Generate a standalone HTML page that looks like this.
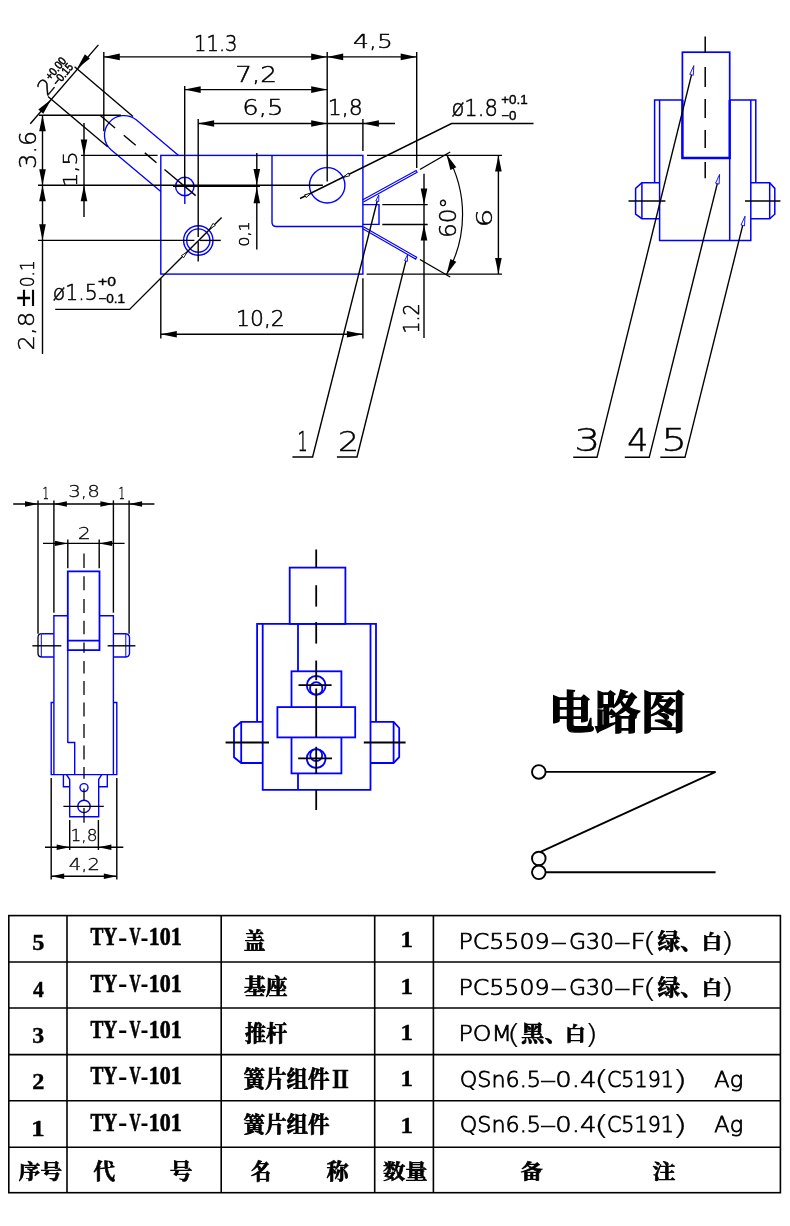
<!DOCTYPE html>
<html lang="zh"><head><meta charset="utf-8"><title>TY-V-101</title>
<style>
html,body{margin:0;padding:0;background:#fff}
svg{display:block;will-change:transform}
.cad{font-family:"DejaVu Sans Light","DejaVu Sans","Liberation Sans",sans-serif;font-weight:200;fill:#000}
.tol{font-family:"Liberation Sans",sans-serif;font-weight:400;fill:#000}
.ser{font-family:"Liberation Serif","Noto Serif CJK SC",serif;font-weight:700;fill:#000}
.cjk{font-family:"Liberation Serif","Noto Serif CJK SC",serif;font-weight:700;fill:#000}
.ttl{font-family:"Liberation Serif","Noto Serif CJK SC",serif;font-weight:700;fill:#000}
.san{font-family:"Liberation Sans",sans-serif;font-weight:400;fill:#000}
</style></head><body>
<svg width="790" height="1226" viewBox="0 0 790 1226">
<rect width="790" height="1226" fill="#fff"/>
<rect x="160.8" y="155.4" width="202.1" height="118.7" stroke="#0000ff" stroke-width="1.4" fill="none"/>
<path d="M178.6,155.4 L136.2,119.8 A19.6,19.6 0 0 0 111.0,149.8 L160.8,191.6" stroke="#0000ff" stroke-width="1.3" fill="none" />
<circle cx="184.8" cy="186.5" r="9.2" stroke="#0000ff" stroke-width="1.4" fill="none"/>
<line x1="184.8" y1="176.5" x2="184.8" y2="204.0" stroke="#0000ff" stroke-width="1.4" />
<circle cx="198.3" cy="240.5" r="14.7" stroke="#0000ff" stroke-width="1.4" fill="none"/>
<circle cx="198.3" cy="240.5" r="11.6" stroke="#0000ff" stroke-width="1.4" fill="none"/>
<circle cx="327.2" cy="185.3" r="17.7" stroke="#0000ff" stroke-width="1.4" fill="none"/>
<path d="M272,155.4 V222.2 Q272,226.5 276.3,226.5 H362.9" stroke="#0000ff" stroke-width="1.4" fill="none" />
<path d="M362.9,204.6 H379 V224.4 H362.9" stroke="#0000ff" stroke-width="1.4" fill="none" />
<path d="M363.4,201.9 L417.1,172.3 L416.1,170.5 L362.4,200.1" stroke="#0000ff" stroke-width="1.15" fill="none" />
<path d="M362.4,228.6 L415.7,259.1 L416.7,257.3 L363.4,226.8" stroke="#0000ff" stroke-width="1.15" fill="none" />
<line x1="103.8" y1="52.0" x2="103.8" y2="131.3" stroke="#000" stroke-width="1.4" />
<line x1="184.7" y1="86.0" x2="184.7" y2="185.0" stroke="#000" stroke-width="1.4" />
<line x1="198.2" y1="119.0" x2="198.2" y2="237.0" stroke="#000" stroke-width="1.4" />
<line x1="198.2" y1="241.5" x2="198.2" y2="261.6" stroke="#000" stroke-width="1.4" />
<line x1="327.2" y1="52.0" x2="327.2" y2="181.5" stroke="#000" stroke-width="1.4" />
<line x1="416.7" y1="52.0" x2="416.7" y2="168.1" stroke="#000" stroke-width="1.4" />
<line x1="362.9" y1="119.0" x2="362.9" y2="151.0" stroke="#000" stroke-width="1.4" />
<line x1="103.8" y1="56.9" x2="416.7" y2="56.9" stroke="#000" stroke-width="1.4" />
<polygon points="103.8,56.9 119.8,53.6 119.8,60.2" fill="#000"/>
<polygon points="327.2,56.9 311.2,60.2 311.2,53.6" fill="#000"/>
<polygon points="327.2,56.9 343.2,53.6 343.2,60.2" fill="#000"/>
<polygon points="416.7,56.9 400.7,60.2 400.7,53.6" fill="#000"/>
<line x1="184.7" y1="89.6" x2="327.2" y2="89.6" stroke="#000" stroke-width="1.4" />
<polygon points="184.7,89.6 200.7,86.3 200.7,92.9" fill="#000"/>
<polygon points="327.2,89.6 311.2,92.9 311.2,86.3" fill="#000"/>
<line x1="198.1" y1="123.5" x2="395.0" y2="123.5" stroke="#000" stroke-width="1.4" />
<polygon points="198.1,123.5 214.1,120.2 214.1,126.8" fill="#000"/>
<polygon points="327.2,123.5 311.2,126.8 311.2,120.2" fill="#000"/>
<polygon points="362.9,123.5 378.9,120.2 378.9,126.8" fill="#000"/>
<line x1="39.0" y1="115.2" x2="121.0" y2="115.2" stroke="#000" stroke-width="1.4" />
<line x1="81.0" y1="155.4" x2="157.6" y2="155.4" stroke="#000" stroke-width="1.4" />
<line x1="38.0" y1="185.3" x2="322.9" y2="185.3" stroke="#000" stroke-width="1.4" />
<line x1="173.0" y1="186.3" x2="260.0" y2="186.3" stroke="#000" stroke-width="1.4" />
<line x1="38.0" y1="240.4" x2="194.4" y2="240.4" stroke="#000" stroke-width="1.4" />
<line x1="199.5" y1="240.4" x2="220.8" y2="240.4" stroke="#000" stroke-width="1.4" />
<line x1="42.5" y1="115.2" x2="42.5" y2="354.0" stroke="#000" stroke-width="1.4" />
<polygon points="42.5,115.2 45.8,131.2 39.2,131.2" fill="#000"/>
<polygon points="42.5,185.3 39.2,169.3 45.8,169.3" fill="#000"/>
<polygon points="42.5,185.3 45.8,201.3 39.2,201.3" fill="#000"/>
<polygon points="42.5,240.3 39.2,224.3 45.8,224.3" fill="#000"/>
<line x1="84.0" y1="123.0" x2="84.0" y2="217.0" stroke="#000" stroke-width="1.4" />
<polygon points="84.0,155.4 80.7,139.4 87.3,139.4" fill="#000"/>
<polygon points="84.0,185.3 87.3,201.3 80.7,201.3" fill="#000"/>
<line x1="256.8" y1="153.0" x2="256.8" y2="249.4" stroke="#000" stroke-width="1.4" />
<polygon points="256.8,185.0 253.5,169.0 260.1,169.0" fill="#000"/>
<polygon points="256.8,187.3 260.1,203.3 253.5,203.3" fill="#000"/>
<line x1="98.4" y1="44.9" x2="30.3" y2="123.7" stroke="#000" stroke-width="1.4" />
<polygon points="77.1,68.6 84.9,54.2 89.9,58.5" fill="#000"/>
<polygon points="51.1,99.4 43.3,113.8 38.3,109.5" fill="#000"/>
<line x1="74.6" y1="66.7" x2="133.0" y2="116.5" stroke="#000" stroke-width="1.4" />
<line x1="48.0" y1="96.5" x2="107.6" y2="146.8" stroke="#000" stroke-width="1.4" />
<line x1="100.0" y1="115.3" x2="115.1" y2="128.0" stroke="#000" stroke-width="1.4" />
<line x1="123.8" y1="135.3" x2="135.7" y2="145.3" stroke="#000" stroke-width="1.4" />
<line x1="144.8" y1="152.9" x2="156.5" y2="162.8" stroke="#000" stroke-width="1.4" />
<line x1="164.5" y1="169.5" x2="195.7" y2="195.6" stroke="#000" stroke-width="1.4" />
<path d="M55.2,309.4 H129.6 L221.6,217.4" stroke="#000" stroke-width="1.4" fill="none" />
<path d="M533.5,123.5 H451.5 L300.1,198.5" stroke="#000" stroke-width="1.4" fill="none" />
<polygon points="311.1,193.3 306.0,197.6 304.6,194.8" fill="#fff" stroke="#000" stroke-width="0.9"/>
<polygon points="343.3,177.3 348.4,173.0 349.8,175.8" fill="#fff" stroke="#000" stroke-width="0.9"/>
<polygon points="209.6,229.0 213.1,223.3 215.3,225.5" fill="#fff" stroke="#000" stroke-width="0.9"/>
<polygon points="187.2,252.0 183.7,257.7 181.5,255.5" fill="#fff" stroke="#000" stroke-width="0.9"/>
<line x1="419.9" y1="169.5" x2="450.2" y2="152.0" stroke="#000" stroke-width="1.4" />
<line x1="419.9" y1="259.5" x2="450.2" y2="277.0" stroke="#000" stroke-width="1.4" />
<path d="M446.4,154.2 A120.5,120.5 0 0 1 446.4,274.8" stroke="#000" stroke-width="1.2" fill="none" />
<polygon points="446.4,154.2 456.3,167.2 450.4,170.1" fill="#000"/>
<polygon points="446.4,274.8 450.4,258.9 456.3,261.8" fill="#000"/>
<line x1="367.0" y1="155.4" x2="502.0" y2="155.4" stroke="#000" stroke-width="1.4" />
<line x1="366.6" y1="274.1" x2="502.0" y2="274.1" stroke="#000" stroke-width="1.4" />
<line x1="498.4" y1="155.4" x2="498.4" y2="274.1" stroke="#000" stroke-width="1.4" />
<polygon points="498.4,155.4 501.7,171.4 495.1,171.4" fill="#000"/>
<polygon points="498.4,274.1 495.1,258.1 501.7,258.1" fill="#000"/>
<line x1="424.0" y1="173.7" x2="424.0" y2="338.0" stroke="#000" stroke-width="1.4" />
<polygon points="424.0,204.6 420.7,188.6 427.3,188.6" fill="#000"/>
<polygon points="424.0,224.5 427.3,240.5 420.7,240.5" fill="#000"/>
<line x1="382.3" y1="204.6" x2="427.7" y2="204.6" stroke="#000" stroke-width="1.4" />
<line x1="382.3" y1="224.5" x2="427.7" y2="224.5" stroke="#000" stroke-width="1.4" />
<line x1="160.8" y1="278.3" x2="160.8" y2="338.5" stroke="#000" stroke-width="1.4" />
<line x1="362.9" y1="278.3" x2="362.9" y2="338.5" stroke="#000" stroke-width="1.4" />
<line x1="160.8" y1="334.3" x2="362.9" y2="334.3" stroke="#000" stroke-width="1.4" />
<polygon points="160.8,334.3 176.8,331.0 176.8,337.6" fill="#000"/>
<polygon points="362.9,334.3 346.9,337.6 346.9,331.0" fill="#000"/>
<path d="M377.2,201 L312.6,457 H292.4" stroke="#000" stroke-width="1.4" fill="none" />
<polygon points="378.8,194.9 378.7,201.6 375.8,200.8" fill="#fff" stroke="#0000ff" stroke-width="0.9"/>
<path d="M405.9,260.8 L357,457 H336.9" stroke="#000" stroke-width="1.4" fill="none" />
<polygon points="407.5,254.9 407.4,261.4 404.5,260.6" fill="#fff" stroke="#0000ff" stroke-width="0.9"/>
<text class="cad" font-size="20" transform="translate(194.00 51.34) rotate(0) scale(0.978 1.033)" stroke="#000" stroke-width="0.5" vector-effect="non-scaling-stroke">11.3</text>
<text class="cad" font-size="20" transform="translate(353.00 48.25) rotate(0) scale(1.252 1.013)" stroke="#000" stroke-width="0.5" vector-effect="non-scaling-stroke">4,5</text>
<text class="cad" font-size="20" transform="translate(235.14 81.54) rotate(0) scale(1.319 1.053)" stroke="#000" stroke-width="0.5" vector-effect="non-scaling-stroke">7,2</text>
<text class="cad" font-size="20" transform="translate(242.26 115.04) rotate(0) scale(1.293 1.053)" stroke="#000" stroke-width="0.5" vector-effect="non-scaling-stroke">6,5</text>
<text class="cad" font-size="20" transform="translate(327.73 115.04) rotate(0) scale(1.101 1.053)" stroke="#000" stroke-width="0.5" vector-effect="non-scaling-stroke">1,8</text>
<text class="cad" font-size="20" transform="translate(36.02 168.64) rotate(-90) scale(1.182 1.138)" stroke="#000" stroke-width="0.5" vector-effect="non-scaling-stroke">3.6</text>
<text class="cad" font-size="20" transform="translate(77.05 187.03) rotate(-90) scale(1.128 1.000)" stroke="#000" stroke-width="0.5" vector-effect="non-scaling-stroke">1,5</text>
<text class="cad" font-size="20" transform="translate(248.61 246.79) rotate(-90) scale(0.802 0.691)" stroke="#000" stroke-width="0.5" vector-effect="non-scaling-stroke">0,1</text>
<text class="cad" font-size="20" transform="translate(33.54 350.45) rotate(-90) scale(1.217 1.072)" stroke="#000" stroke-width="0.5" vector-effect="non-scaling-stroke">2,8</text>
<text class="tol" font-size="20" transform="translate(33.90 306.89) rotate(-90) scale(1.653 1.383)" stroke="#000" stroke-width="0.2" vector-effect="non-scaling-stroke">±</text>
<text class="cad" font-size="20" transform="translate(33.56 287.28) rotate(-90) scale(0.853 0.954)" stroke="#000" stroke-width="0.5" vector-effect="non-scaling-stroke">0.1</text>
<text class="cad" font-size="20" transform="translate(451.40 116.32) rotate(0) scale(1.058 1.171)" stroke="#000" stroke-width="0.5" vector-effect="non-scaling-stroke">ø1.8</text>
<text class="tol" font-size="20" transform="translate(501.13 104.27) rotate(0) scale(0.673 0.641)" stroke="#000" stroke-width="0.4" vector-effect="non-scaling-stroke">+0.1</text>
<text class="tol" font-size="20" transform="translate(501.13 120.07) rotate(0) scale(0.667 0.634)" stroke="#000" stroke-width="0.4" vector-effect="non-scaling-stroke">−0</text>
<text class="cad" font-size="20" transform="translate(52.63 299.53) rotate(0) scale(1.024 1.086)" stroke="#000" stroke-width="0.5" vector-effect="non-scaling-stroke">ø1.5</text>
<text class="tol" font-size="20" transform="translate(98.11 285.97) rotate(0) scale(0.790 0.627)" stroke="#000" stroke-width="0.4" vector-effect="non-scaling-stroke">+0</text>
<text class="tol" font-size="20" transform="translate(98.22 303.47) rotate(0) scale(0.678 0.627)" stroke="#000" stroke-width="0.4" vector-effect="non-scaling-stroke">−0.1</text>
<text class="cad" font-size="20" transform="translate(235.93 325.55) rotate(0) scale(1.099 1.020)" stroke="#000" stroke-width="0.5" vector-effect="non-scaling-stroke">10,2</text>
<text class="cad" font-size="20" transform="translate(418.54 333.54) rotate(-90) scale(0.949 1.046)" stroke="#000" stroke-width="0.5" vector-effect="non-scaling-stroke">1.2</text>
<text class="cad" font-size="20" transform="translate(456.12 238.06) rotate(-90) scale(1.157 1.132)" stroke="#000" stroke-width="0.5" vector-effect="non-scaling-stroke">60°</text>
<text class="cad" font-size="20" transform="translate(492.03 227.43) rotate(-90) scale(1.489 1.079)" stroke="#000" stroke-width="0.5" vector-effect="non-scaling-stroke">6</text>
<text class="cad" font-size="20" transform="translate(297.38 450.99) rotate(0) scale(0.805 1.296)" stroke="#000" stroke-width="0.5" vector-effect="non-scaling-stroke">1</text>
<text class="cad" font-size="20" transform="translate(337.94 450.99) rotate(0) scale(1.649 1.296)" stroke="#000" stroke-width="0.5" vector-effect="non-scaling-stroke">2</text>
<text class="cad" font-size="20" transform="translate(46.88 96.64) rotate(-50) scale(1.120 1.050)" stroke="#000" stroke-width="0.5" vector-effect="non-scaling-stroke">2</text>
<text class="tol" font-size="20" transform="translate(50.60 80.70) rotate(-50) scale(0.500 0.580)" stroke="#000" stroke-width="0.5" vector-effect="non-scaling-stroke">+0.00</text>
<text class="tol" font-size="20" transform="translate(57.65 86.62) rotate(-50) scale(0.500 0.580)" stroke="#000" stroke-width="0.5" vector-effect="non-scaling-stroke">−0.15</text>
<rect x="682.4" y="52.2" width="47.3" height="105.8" stroke="#0000ff" stroke-width="1.7" fill="none"/>
<line x1="729.7" y1="158.0" x2="729.7" y2="240.5" stroke="#0000ff" stroke-width="1.5" />
<path d="M682.4,100 V158 H729.7 V100" stroke="#0000ff" stroke-width="2.3" fill="none" />
<path d="M654.6,182.8 V100 H682.4" stroke="#0000ff" stroke-width="1.5" fill="none" />
<path d="M729.7,100 H755.8 V182.8" stroke="#0000ff" stroke-width="1.5" fill="none" />
<path d="M659.6,100 V240.5 H750.8 V100" stroke="#0000ff" stroke-width="1.5" fill="none" />
<path d="M659.6,182.8 H641.9 L635.6,188.4 V214.2 L641.9,218.7 H659.6" stroke="#0000ff" stroke-width="1.5" fill="none" />
<line x1="641.9" y1="182.8" x2="641.9" y2="218.7" stroke="#0000ff" stroke-width="1.5" />
<path d="M750.8,182.8 H769.7 L774.8,188.4 V214.2 L769.7,218.7 H750.8" stroke="#0000ff" stroke-width="1.5" fill="none" />
<line x1="769.7" y1="182.8" x2="769.7" y2="218.7" stroke="#0000ff" stroke-width="1.5" />
<line x1="628.5" y1="201.0" x2="665.4" y2="201.0" stroke="#000" stroke-width="1.4" />
<line x1="745.0" y1="201.0" x2="780.4" y2="201.0" stroke="#000" stroke-width="1.4" />
<line x1="705.2" y1="36.5" x2="705.2" y2="53.0" stroke="#000" stroke-width="1.5" />
<line x1="705.2" y1="67.0" x2="705.2" y2="87.0" stroke="#000" stroke-width="1.5" />
<line x1="705.2" y1="99.0" x2="705.2" y2="118.0" stroke="#000" stroke-width="1.5" />
<line x1="705.2" y1="130.0" x2="705.2" y2="148.0" stroke="#000" stroke-width="1.5" />
<line x1="705.2" y1="162.0" x2="705.2" y2="178.2" stroke="#000" stroke-width="1.5" />
<path d="M691.5,74.8 L597,457.3 H573.2" stroke="#000" stroke-width="1.4" fill="none" />
<polygon points="693.8,65.6 693.3,75.3 689.8,74.4" fill="#fff" stroke="#0000ff" stroke-width="0.9"/>
<path d="M717.3,183.6 L649.2,457.3 H624.8" stroke="#000" stroke-width="1.4" fill="none" />
<polygon points="719.6,174.4 719.1,184.1 715.6,183.2" fill="#fff" stroke="#0000ff" stroke-width="0.9"/>
<path d="M742.7,225.4 L685,457.3 H660.3" stroke="#000" stroke-width="1.4" fill="none" />
<polygon points="745.0,216.2 744.5,225.9 741.0,225.0" fill="#fff" stroke="#0000ff" stroke-width="0.9"/>
<text class="cad" font-size="20" transform="translate(574.26 450.93) rotate(0) scale(2.056 1.579)" stroke="#000" stroke-width="0.5" vector-effect="non-scaling-stroke">3</text>
<text class="cad" font-size="20" transform="translate(627.19 450.93) rotate(0) scale(1.657 1.579)" stroke="#000" stroke-width="0.5" vector-effect="non-scaling-stroke">4</text>
<text class="cad" font-size="20" transform="translate(661.18 450.93) rotate(0) scale(2.035 1.579)" stroke="#000" stroke-width="0.5" vector-effect="non-scaling-stroke">5</text>
<line x1="38.0" y1="500.4" x2="38.0" y2="633.7" stroke="#000" stroke-width="1.4" />
<line x1="53.9" y1="500.4" x2="53.9" y2="612.7" stroke="#000" stroke-width="1.4" />
<line x1="113.4" y1="500.4" x2="113.4" y2="612.7" stroke="#000" stroke-width="1.4" />
<line x1="129.1" y1="500.4" x2="129.1" y2="633.7" stroke="#000" stroke-width="1.4" />
<line x1="13.2" y1="504.0" x2="154.4" y2="504.0" stroke="#000" stroke-width="1.4" />
<polygon points="38.0,504.0 25.0,506.7 25.0,501.3" fill="#000"/>
<polygon points="53.9,504.0 66.9,501.3 66.9,506.7" fill="#000"/>
<polygon points="113.4,504.0 100.4,506.7 100.4,501.3" fill="#000"/>
<polygon points="129.1,504.0 142.1,501.3 142.1,506.7" fill="#000"/>
<line x1="43.0" y1="543.4" x2="124.6" y2="543.4" stroke="#000" stroke-width="1.4" />
<polygon points="67.8,543.4 54.8,546.1 54.8,540.7" fill="#000"/>
<polygon points="99.2,543.4 112.2,540.7 112.2,546.1" fill="#000"/>
<line x1="67.8" y1="539.6" x2="67.8" y2="568.2" stroke="#000" stroke-width="1.4" />
<line x1="99.2" y1="539.6" x2="99.2" y2="568.2" stroke="#000" stroke-width="1.4" />
<path d="M67.8,743 V650.1" stroke="#0000ff" stroke-width="1.4" fill="none" />
<path d="M67.8,650.1 V571.3 H99.5 V650.1 Z" stroke="#0000ff" stroke-width="1.8" fill="none" />
<line x1="67.8" y1="640.6" x2="99.5" y2="640.6" stroke="#0000ff" stroke-width="1.8" />
<path d="M67.8,742.5 H74.7 V774.6" stroke="#0000ff" stroke-width="1.4" fill="none" />
<path d="M67.8,615.7 H53.9 V774.6" stroke="#0000ff" stroke-width="1.4" fill="none" />
<path d="M99.2,615.7 H113.4 V774.6" stroke="#0000ff" stroke-width="1.4" fill="none" />
<path d="M53.9,702.5 H51.2 V774.6 H116.8 V702.5 H113.4" stroke="#0000ff" stroke-width="1.4" fill="none" />
<path d="M53.9,633.7 H41.3 M41.3,657 H53.9" stroke="#0000ff" stroke-width="1.4" fill="none" />
<path d="M41.3,633.7 Q38,634 38,637.5 V653.2 Q38,656.7 41.3,657" stroke="#000" stroke-width="1.3" fill="none" />
<line x1="41.3" y1="633.7" x2="41.3" y2="657.0" stroke="#0000ff" stroke-width="1.0" />
<path d="M113.4,633.7 H125.8 Q129.3,634 129.5,637.5 V653.2 Q129.3,656.7 125.8,657 H113.4" stroke="#0000ff" stroke-width="1.4" fill="none" />
<line x1="125.8" y1="633.7" x2="125.8" y2="657.0" stroke="#0000ff" stroke-width="1.0" />
<line x1="32.4" y1="645.8" x2="61.3" y2="645.8" stroke="#000" stroke-width="1.4" />
<line x1="107.6" y1="645.8" x2="135.4" y2="645.8" stroke="#000" stroke-width="1.4" />
<path d="M63.4,774.6 V786.7 H69.7" stroke="#0000ff" stroke-width="1.4" fill="none" />
<path d="M107.3,774.6 V786.7 H98.7" stroke="#0000ff" stroke-width="1.4" fill="none" />
<path d="M66.5,774.6 L69.7,779.5 V816.7 H98.7 V779.5 L101.7,774.6" stroke="#0000ff" stroke-width="1.4" fill="none" />
<circle cx="84.0" cy="787.6" r="4.0" stroke="#0000ff" stroke-width="1.4" fill="none"/>
<circle cx="84.0" cy="806.4" r="6.2" stroke="#0000ff" stroke-width="1.4" fill="none"/>
<line x1="63.4" y1="806.4" x2="103.8" y2="806.4" stroke="#000" stroke-width="1.4" />
<line x1="84.0" y1="553.5" x2="84.0" y2="568.0" stroke="#000" stroke-width="1.3" />
<line x1="84.0" y1="576.3" x2="84.0" y2="590.3" stroke="#000" stroke-width="1.3" />
<line x1="84.0" y1="599.0" x2="84.0" y2="613.0" stroke="#000" stroke-width="1.3" />
<line x1="84.0" y1="620.8" x2="84.0" y2="634.2" stroke="#000" stroke-width="1.3" />
<line x1="84.0" y1="642.5" x2="84.0" y2="652.7" stroke="#000" stroke-width="1.3" />
<line x1="84.0" y1="661.0" x2="84.0" y2="673.5" stroke="#000" stroke-width="1.3" />
<line x1="84.0" y1="681.0" x2="84.0" y2="695.0" stroke="#000" stroke-width="1.3" />
<line x1="84.0" y1="702.5" x2="84.0" y2="716.5" stroke="#000" stroke-width="1.3" />
<line x1="84.0" y1="724.0" x2="84.0" y2="738.0" stroke="#000" stroke-width="1.3" />
<line x1="84.0" y1="745.5" x2="84.0" y2="759.5" stroke="#000" stroke-width="1.3" />
<line x1="84.0" y1="767.0" x2="84.0" y2="778.8" stroke="#000" stroke-width="1.3" />
<line x1="84.0" y1="788.5" x2="84.0" y2="800.4" stroke="#000" stroke-width="1.3" />
<line x1="84.0" y1="808.0" x2="84.0" y2="822.7" stroke="#000" stroke-width="1.3" />
<line x1="69.7" y1="820.0" x2="69.7" y2="850.0" stroke="#000" stroke-width="1.4" />
<line x1="98.4" y1="820.0" x2="98.4" y2="850.0" stroke="#000" stroke-width="1.4" />
<line x1="45.0" y1="847.2" x2="123.3" y2="847.2" stroke="#000" stroke-width="1.4" />
<polygon points="69.7,847.2 56.7,849.9 56.7,844.5" fill="#000"/>
<polygon points="98.4,847.2 111.4,844.5 111.4,849.9" fill="#000"/>
<line x1="51.2" y1="778.0" x2="51.2" y2="879.4" stroke="#000" stroke-width="1.4" />
<line x1="116.8" y1="778.0" x2="116.8" y2="879.4" stroke="#000" stroke-width="1.4" />
<line x1="51.2" y1="876.3" x2="116.8" y2="876.3" stroke="#000" stroke-width="1.4" />
<polygon points="51.2,876.3 64.2,873.6 64.2,879.0" fill="#000"/>
<polygon points="116.8,876.3 103.8,879.0 103.8,873.6" fill="#000"/>
<text class="cad" font-size="20" transform="translate(42.52 499.30) rotate(0) scale(0.512 0.763)" stroke="#000" stroke-width="0.3" vector-effect="non-scaling-stroke">1</text>
<text class="cad" font-size="20" transform="translate(68.16 497.20) rotate(0) scale(0.996 0.757)" stroke="#000" stroke-width="0.3" vector-effect="non-scaling-stroke">3,8</text>
<text class="cad" font-size="20" transform="translate(118.52 499.30) rotate(0) scale(0.512 0.763)" stroke="#000" stroke-width="0.3" vector-effect="non-scaling-stroke">1</text>
<text class="cad" font-size="20" transform="translate(77.71 538.60) rotate(0) scale(1.032 0.763)" stroke="#000" stroke-width="0.3" vector-effect="non-scaling-stroke">2</text>
<text class="cad" font-size="20" transform="translate(70.47 841.09) rotate(0) scale(0.853 0.783)" stroke="#000" stroke-width="0.3" vector-effect="non-scaling-stroke">1,8</text>
<text class="cad" font-size="20" transform="translate(68.77 870.20) rotate(0) scale(0.983 0.763)" stroke="#000" stroke-width="0.3" vector-effect="non-scaling-stroke">4,2</text>
<rect x="289.7" y="567.6" width="55.7" height="56.3" stroke="#0000ff" stroke-width="1.8" fill="none"/>
<path d="M257.1,721.9 V623.9 H376 V721.9" stroke="#0000ff" stroke-width="1.8" fill="none" />
<path d="M262.7,623.9 V789.9 H370.5 V623.9" stroke="#0000ff" stroke-width="1.8" fill="none" />
<line x1="298.0" y1="623.9" x2="298.0" y2="671.3" stroke="#0000ff" stroke-width="1.8" />
<line x1="298.0" y1="773.4" x2="298.0" y2="789.9" stroke="#0000ff" stroke-width="1.8" />
<rect x="291.5" y="671.3" width="49.9" height="102.1" stroke="#0000ff" stroke-width="1.8" fill="none"/>
<rect x="277.4" y="707.1" width="77.8" height="30.3" fill="#fff" stroke="#0000ff" stroke-width="1.8"/>
<circle cx="316.2" cy="685.4" r="9.4" stroke="#0000ff" stroke-width="1.8" fill="none"/>
<circle cx="316.2" cy="688.4" r="6.2" stroke="#0000ff" stroke-width="1.8" fill="none"/>
<circle cx="316.2" cy="758.6" r="9.4" stroke="#0000ff" stroke-width="1.8" fill="none"/>
<circle cx="316.2" cy="755.2" r="6.0" stroke="#0000ff" stroke-width="1.8" fill="none"/>
<line x1="298.5" y1="685.2" x2="331.6" y2="685.2" stroke="#000" stroke-width="1.8" />
<line x1="298.2" y1="758.3" x2="332.0" y2="758.3" stroke="#000" stroke-width="1.8" />
<path d="M262.7,721.9 H241.2 L234,728 V757.2 L241.2,763 H262.7" stroke="#0000ff" stroke-width="1.8" fill="none" />
<line x1="241.2" y1="721.9" x2="241.2" y2="763.0" stroke="#0000ff" stroke-width="1.8" />
<path d="M370.5,721.9 H393.6 L399.2,728 V757.2 L393.6,763 H370.5" stroke="#0000ff" stroke-width="1.8" fill="none" />
<line x1="393.6" y1="721.9" x2="393.6" y2="763.0" stroke="#0000ff" stroke-width="1.8" />
<line x1="225.6" y1="742.5" x2="269.0" y2="742.5" stroke="#000" stroke-width="1.8" />
<line x1="363.8" y1="742.5" x2="405.6" y2="742.5" stroke="#000" stroke-width="1.8" />
<line x1="316.2" y1="549.5" x2="316.2" y2="567.6" stroke="#000" stroke-width="1.8" />
<line x1="316.2" y1="585.2" x2="316.2" y2="606.6" stroke="#000" stroke-width="1.8" />
<line x1="316.2" y1="622.0" x2="316.2" y2="643.6" stroke="#000" stroke-width="1.8" />
<line x1="316.2" y1="660.6" x2="316.2" y2="680.1" stroke="#000" stroke-width="1.8" />
<line x1="316.2" y1="688.5" x2="316.2" y2="737.4" stroke="#000" stroke-width="1.8" />
<line x1="316.2" y1="746.8" x2="316.2" y2="774.0" stroke="#000" stroke-width="1.8" />
<line x1="316.2" y1="789.9" x2="316.2" y2="810.0" stroke="#000" stroke-width="1.8" />
<text class="ttl" font-size="20" transform="translate(548.81 728.54) rotate(0) scale(2.292 2.255)" stroke="#000" stroke-width="1.3" vector-effect="non-scaling-stroke">电路图</text>
<circle cx="538.8" cy="771.9" r="6.8" stroke="#000" stroke-width="1.9" fill="none"/>
<circle cx="538.8" cy="858.5" r="6.8" stroke="#000" stroke-width="1.9" fill="none"/>
<circle cx="538.8" cy="872.3" r="6.8" stroke="#000" stroke-width="1.9" fill="none"/>
<path d="M545.8,771.9 H715.6 L540.5,851.8" stroke="#000" stroke-width="1.9" fill="none" />
<line x1="545.8" y1="872.3" x2="715.6" y2="872.3" stroke="#000" stroke-width="1.9" />
<rect x="8.8" y="915.6" width="771.6" height="277.1" stroke="#000" stroke-width="1.6" fill="none"/>
<line x1="8.8" y1="962.0" x2="780.4" y2="962.0" stroke="#000" stroke-width="1.6" />
<line x1="8.8" y1="1008.0" x2="780.4" y2="1008.0" stroke="#000" stroke-width="1.6" />
<line x1="8.8" y1="1054.6" x2="780.4" y2="1054.6" stroke="#000" stroke-width="1.6" />
<line x1="8.8" y1="1100.8" x2="780.4" y2="1100.8" stroke="#000" stroke-width="1.6" />
<line x1="8.8" y1="1147.3" x2="780.4" y2="1147.3" stroke="#000" stroke-width="1.6" />
<line x1="67.0" y1="915.6" x2="67.0" y2="1192.7" stroke="#000" stroke-width="1.6" />
<line x1="221.2" y1="915.6" x2="221.2" y2="1192.7" stroke="#000" stroke-width="1.6" />
<line x1="374.7" y1="915.6" x2="374.7" y2="1192.7" stroke="#000" stroke-width="1.6" />
<line x1="433.4" y1="915.6" x2="433.4" y2="1192.7" stroke="#000" stroke-width="1.6" />
<text class="ser" font-size="20" transform="translate(32.13 950.34) rotate(0) scale(1.214 1.154)" stroke="#000" stroke-width="0.4" vector-effect="non-scaling-stroke">5</text>
<text class="ser" font-size="20" transform="translate(90.41 945.48) rotate(0) scale(0.967 1.294)" stroke="#000" stroke-width="0.6" vector-effect="non-scaling-stroke">TY</text>
<text class="ser" font-size="20" transform="translate(118.24 945.67) rotate(0) scale(1.327 1.324)" stroke="#000" stroke-width="0.2" vector-effect="non-scaling-stroke">-</text>
<text class="ser" font-size="20" transform="translate(129.55 945.48) rotate(0) scale(0.771 1.294)" stroke="#000" stroke-width="0.6" vector-effect="non-scaling-stroke">V</text>
<text class="ser" font-size="20" transform="translate(140.81 945.67) rotate(0) scale(1.115 1.324)" stroke="#000" stroke-width="0.2" vector-effect="non-scaling-stroke">-</text>
<text class="ser" font-size="20" transform="translate(148.74 945.48) rotate(0) scale(1.102 1.294)" stroke="#000" stroke-width="0.6" vector-effect="non-scaling-stroke">101</text>
<text class="ser" font-size="20" transform="translate(400.41 947.34) rotate(0) scale(1.243 1.162)" stroke="#000" stroke-width="0.4" vector-effect="non-scaling-stroke">1</text>
<text class="ser" font-size="20" transform="translate(32.88 996.64) rotate(0) scale(1.085 1.154)" stroke="#000" stroke-width="0.4" vector-effect="non-scaling-stroke">4</text>
<text class="ser" font-size="20" transform="translate(90.41 991.78) rotate(0) scale(0.967 1.294)" stroke="#000" stroke-width="0.6" vector-effect="non-scaling-stroke">TY</text>
<text class="ser" font-size="20" transform="translate(118.24 991.97) rotate(0) scale(1.327 1.324)" stroke="#000" stroke-width="0.2" vector-effect="non-scaling-stroke">-</text>
<text class="ser" font-size="20" transform="translate(129.55 991.78) rotate(0) scale(0.771 1.294)" stroke="#000" stroke-width="0.6" vector-effect="non-scaling-stroke">V</text>
<text class="ser" font-size="20" transform="translate(140.81 991.97) rotate(0) scale(1.115 1.324)" stroke="#000" stroke-width="0.2" vector-effect="non-scaling-stroke">-</text>
<text class="ser" font-size="20" transform="translate(148.74 991.78) rotate(0) scale(1.102 1.294)" stroke="#000" stroke-width="0.6" vector-effect="non-scaling-stroke">101</text>
<text class="ser" font-size="20" transform="translate(400.41 993.64) rotate(0) scale(1.243 1.162)" stroke="#000" stroke-width="0.4" vector-effect="non-scaling-stroke">1</text>
<text class="ser" font-size="20" transform="translate(32.15 1042.94) rotate(0) scale(1.186 1.154)" stroke="#000" stroke-width="0.4" vector-effect="non-scaling-stroke">3</text>
<text class="ser" font-size="20" transform="translate(90.41 1038.08) rotate(0) scale(0.967 1.294)" stroke="#000" stroke-width="0.6" vector-effect="non-scaling-stroke">TY</text>
<text class="ser" font-size="20" transform="translate(118.24 1038.27) rotate(0) scale(1.327 1.324)" stroke="#000" stroke-width="0.2" vector-effect="non-scaling-stroke">-</text>
<text class="ser" font-size="20" transform="translate(129.55 1038.08) rotate(0) scale(0.771 1.294)" stroke="#000" stroke-width="0.6" vector-effect="non-scaling-stroke">V</text>
<text class="ser" font-size="20" transform="translate(140.81 1038.27) rotate(0) scale(1.115 1.324)" stroke="#000" stroke-width="0.2" vector-effect="non-scaling-stroke">-</text>
<text class="ser" font-size="20" transform="translate(148.74 1038.08) rotate(0) scale(1.102 1.294)" stroke="#000" stroke-width="0.6" vector-effect="non-scaling-stroke">101</text>
<text class="ser" font-size="20" transform="translate(400.41 1039.94) rotate(0) scale(1.243 1.162)" stroke="#000" stroke-width="0.4" vector-effect="non-scaling-stroke">1</text>
<text class="ser" font-size="20" transform="translate(32.13 1089.24) rotate(0) scale(1.214 1.154)" stroke="#000" stroke-width="0.4" vector-effect="non-scaling-stroke">2</text>
<text class="ser" font-size="20" transform="translate(90.41 1084.38) rotate(0) scale(0.967 1.294)" stroke="#000" stroke-width="0.6" vector-effect="non-scaling-stroke">TY</text>
<text class="ser" font-size="20" transform="translate(118.24 1084.57) rotate(0) scale(1.327 1.324)" stroke="#000" stroke-width="0.2" vector-effect="non-scaling-stroke">-</text>
<text class="ser" font-size="20" transform="translate(129.55 1084.38) rotate(0) scale(0.771 1.294)" stroke="#000" stroke-width="0.6" vector-effect="non-scaling-stroke">V</text>
<text class="ser" font-size="20" transform="translate(140.81 1084.57) rotate(0) scale(1.115 1.324)" stroke="#000" stroke-width="0.2" vector-effect="non-scaling-stroke">-</text>
<text class="ser" font-size="20" transform="translate(148.74 1084.38) rotate(0) scale(1.102 1.294)" stroke="#000" stroke-width="0.6" vector-effect="non-scaling-stroke">101</text>
<text class="ser" font-size="20" transform="translate(400.41 1086.24) rotate(0) scale(1.243 1.162)" stroke="#000" stroke-width="0.4" vector-effect="non-scaling-stroke">1</text>
<text class="ser" font-size="20" transform="translate(30.89 1135.54) rotate(0) scale(1.378 1.154)" stroke="#000" stroke-width="0.4" vector-effect="non-scaling-stroke">1</text>
<text class="ser" font-size="20" transform="translate(90.41 1130.68) rotate(0) scale(0.967 1.294)" stroke="#000" stroke-width="0.6" vector-effect="non-scaling-stroke">TY</text>
<text class="ser" font-size="20" transform="translate(118.24 1130.87) rotate(0) scale(1.327 1.324)" stroke="#000" stroke-width="0.2" vector-effect="non-scaling-stroke">-</text>
<text class="ser" font-size="20" transform="translate(129.55 1130.68) rotate(0) scale(0.771 1.294)" stroke="#000" stroke-width="0.6" vector-effect="non-scaling-stroke">V</text>
<text class="ser" font-size="20" transform="translate(140.81 1130.87) rotate(0) scale(1.115 1.324)" stroke="#000" stroke-width="0.2" vector-effect="non-scaling-stroke">-</text>
<text class="ser" font-size="20" transform="translate(148.74 1130.68) rotate(0) scale(1.102 1.294)" stroke="#000" stroke-width="0.6" vector-effect="non-scaling-stroke">101</text>
<text class="ser" font-size="20" transform="translate(400.41 1132.54) rotate(0) scale(1.243 1.162)" stroke="#000" stroke-width="0.4" vector-effect="non-scaling-stroke">1</text>
<text class="cjk" font-size="20" transform="translate(243.55 949.12) rotate(0) scale(1.103 1.128)" stroke="#000" stroke-width="0.7" vector-effect="non-scaling-stroke">盖</text>
<text class="cjk" font-size="20" transform="translate(244.00 994.44) rotate(0) scale(1.085 1.057)" stroke="#000" stroke-width="0.7" vector-effect="non-scaling-stroke">基座</text>
<text class="cjk" font-size="20" transform="translate(244.93 1040.73) rotate(0) scale(1.056 1.068)" stroke="#000" stroke-width="0.7" vector-effect="non-scaling-stroke">推杆</text>
<text class="cjk" font-size="20" transform="translate(243.40 1086.95) rotate(0) scale(1.077 1.111)" stroke="#000" stroke-width="0.7" vector-effect="non-scaling-stroke">簧片组件</text>
<text class="cjk" font-size="20" transform="translate(329.57 1087.65) rotate(0) scale(1.093 1.153)" stroke="#000" stroke-width="0.7" vector-effect="non-scaling-stroke">Ⅱ</text>
<text class="cjk" font-size="20" transform="translate(243.40 1132.13) rotate(0) scale(1.077 1.068)" stroke="#000" stroke-width="0.7" vector-effect="non-scaling-stroke">簧片组件</text>
<text class="cad" font-size="20" transform="translate(458.45 948.59) rotate(0) scale(1.185 1.046)" stroke="#000" stroke-width="0.8" vector-effect="non-scaling-stroke">PC5509</text>
<text class="cad" font-size="20" transform="translate(550.54 948.59) rotate(0) scale(1.663 1.046)" stroke="#000" stroke-width="0.8" vector-effect="non-scaling-stroke">–</text>
<text class="cad" font-size="20" transform="translate(569.04 948.59) rotate(0) scale(1.102 1.046)" stroke="#000" stroke-width="0.8" vector-effect="non-scaling-stroke">G30</text>
<text class="cad" font-size="20" transform="translate(613.93 948.59) rotate(0) scale(1.675 1.046)" stroke="#000" stroke-width="0.8" vector-effect="non-scaling-stroke">–</text>
<text class="cad" font-size="20" transform="translate(630.52 948.59) rotate(0) scale(1.324 1.046)" stroke="#000" stroke-width="0.8" vector-effect="non-scaling-stroke">F</text>
<text class="cad" font-size="20" transform="translate(641.84 950.67) rotate(0) scale(2.028 1.320)" stroke="#000" stroke-width="0.2" vector-effect="non-scaling-stroke">(</text>
<text class="cad" font-size="20" transform="translate(719.58 950.67) rotate(0) scale(1.917 1.320)" stroke="#000" stroke-width="0.2" vector-effect="non-scaling-stroke">)</text>
<text class="cjk" font-size="20" transform="translate(657.49 948.71) rotate(0) scale(1.140 1.080)" stroke="#000" stroke-width="0.7" vector-effect="non-scaling-stroke">绿、</text>
<text class="cjk" font-size="20" transform="translate(701.72 948.87) rotate(0) scale(1.013 0.989)" stroke="#000" stroke-width="0.7" vector-effect="non-scaling-stroke">白</text>
<text class="cad" font-size="20" transform="translate(458.45 994.89) rotate(0) scale(1.185 1.046)" stroke="#000" stroke-width="0.8" vector-effect="non-scaling-stroke">PC5509</text>
<text class="cad" font-size="20" transform="translate(550.54 994.89) rotate(0) scale(1.663 1.046)" stroke="#000" stroke-width="0.8" vector-effect="non-scaling-stroke">–</text>
<text class="cad" font-size="20" transform="translate(569.04 994.89) rotate(0) scale(1.102 1.046)" stroke="#000" stroke-width="0.8" vector-effect="non-scaling-stroke">G30</text>
<text class="cad" font-size="20" transform="translate(613.93 994.89) rotate(0) scale(1.675 1.046)" stroke="#000" stroke-width="0.8" vector-effect="non-scaling-stroke">–</text>
<text class="cad" font-size="20" transform="translate(630.52 994.89) rotate(0) scale(1.324 1.046)" stroke="#000" stroke-width="0.8" vector-effect="non-scaling-stroke">F</text>
<text class="cad" font-size="20" transform="translate(641.84 996.97) rotate(0) scale(2.028 1.320)" stroke="#000" stroke-width="0.2" vector-effect="non-scaling-stroke">(</text>
<text class="cad" font-size="20" transform="translate(719.58 996.97) rotate(0) scale(1.917 1.320)" stroke="#000" stroke-width="0.2" vector-effect="non-scaling-stroke">)</text>
<text class="cjk" font-size="20" transform="translate(657.49 995.01) rotate(0) scale(1.140 1.080)" stroke="#000" stroke-width="0.7" vector-effect="non-scaling-stroke">绿、</text>
<text class="cjk" font-size="20" transform="translate(701.72 995.17) rotate(0) scale(1.013 0.989)" stroke="#000" stroke-width="0.7" vector-effect="non-scaling-stroke">白</text>
<text class="cad" font-size="20" transform="translate(458.46 1041.19) rotate(0) scale(1.185 1.046)" stroke="#000" stroke-width="0.8" vector-effect="non-scaling-stroke">POM</text>
<text class="cad" font-size="20" transform="translate(506.32 1043.27) rotate(0) scale(1.944 1.320)" stroke="#000" stroke-width="0.2" vector-effect="non-scaling-stroke">(</text>
<text class="cad" font-size="20" transform="translate(584.17 1043.27) rotate(0) scale(1.833 1.320)" stroke="#000" stroke-width="0.2" vector-effect="non-scaling-stroke">)</text>
<text class="cjk" font-size="20" transform="translate(521.01 1041.09) rotate(0) scale(1.169 1.080)" stroke="#000" stroke-width="0.7" vector-effect="non-scaling-stroke">黑、</text>
<text class="cjk" font-size="20" transform="translate(564.95 1041.47) rotate(0) scale(1.038 0.989)" stroke="#000" stroke-width="0.7" vector-effect="non-scaling-stroke">白</text>
<text class="cad" font-size="20" transform="translate(459.72 1086.69) rotate(0) scale(1.116 1.053)" stroke="#000" stroke-width="0.8" vector-effect="non-scaling-stroke">QSn6.5</text>
<text class="cad" font-size="20" transform="translate(539.83 1086.69) rotate(0) scale(1.675 1.053)" stroke="#000" stroke-width="0.8" vector-effect="non-scaling-stroke">–</text>
<text class="cad" font-size="20" transform="translate(555.37 1086.69) rotate(0) scale(1.292 1.053)" stroke="#000" stroke-width="0.8" vector-effect="non-scaling-stroke">0.4</text>
<text class="cad" font-size="20" transform="translate(592.97 1088.75) rotate(0) scale(2.194 1.326)" stroke="#000" stroke-width="0.2" vector-effect="non-scaling-stroke">(</text>
<text class="cad" font-size="20" transform="translate(606.95 1086.69) rotate(0) scale(1.033 1.053)" stroke="#000" stroke-width="0.8" vector-effect="non-scaling-stroke">C5191</text>
<text class="cad" font-size="20" transform="translate(671.37 1088.75) rotate(0) scale(2.194 1.326)" stroke="#000" stroke-width="0.2" vector-effect="non-scaling-stroke">)</text>
<text class="cad" font-size="20" transform="translate(714.33 1086.90) rotate(0) scale(1.123 1.096)" stroke="#000" stroke-width="0.8" vector-effect="non-scaling-stroke">Ag</text>
<text class="cad" font-size="20" transform="translate(459.72 1131.89) rotate(0) scale(1.116 1.053)" stroke="#000" stroke-width="0.8" vector-effect="non-scaling-stroke">QSn6.5</text>
<text class="cad" font-size="20" transform="translate(539.83 1131.89) rotate(0) scale(1.675 1.053)" stroke="#000" stroke-width="0.8" vector-effect="non-scaling-stroke">–</text>
<text class="cad" font-size="20" transform="translate(555.37 1131.89) rotate(0) scale(1.292 1.053)" stroke="#000" stroke-width="0.8" vector-effect="non-scaling-stroke">0.4</text>
<text class="cad" font-size="20" transform="translate(592.97 1133.95) rotate(0) scale(2.194 1.326)" stroke="#000" stroke-width="0.2" vector-effect="non-scaling-stroke">(</text>
<text class="cad" font-size="20" transform="translate(606.95 1131.89) rotate(0) scale(1.033 1.053)" stroke="#000" stroke-width="0.8" vector-effect="non-scaling-stroke">C5191</text>
<text class="cad" font-size="20" transform="translate(671.37 1133.95) rotate(0) scale(2.194 1.326)" stroke="#000" stroke-width="0.2" vector-effect="non-scaling-stroke">)</text>
<text class="cad" font-size="20" transform="translate(714.33 1132.10) rotate(0) scale(1.123 1.096)" stroke="#000" stroke-width="0.8" vector-effect="non-scaling-stroke">Ag</text>
<text class="cjk" font-size="20" transform="translate(18.82 1178.59) rotate(0) scale(1.079 1.031)" stroke="#000" stroke-width="0.7" vector-effect="non-scaling-stroke">序号</text>
<text class="cjk" font-size="20" transform="translate(93.62 1178.75) rotate(0) scale(1.084 1.053)" stroke="#000" stroke-width="0.7" vector-effect="non-scaling-stroke">代</text>
<text class="cjk" font-size="20" transform="translate(169.75 1178.75) rotate(0) scale(1.129 1.053)" stroke="#000" stroke-width="0.7" vector-effect="non-scaling-stroke">号</text>
<text class="cjk" font-size="20" transform="translate(250.74 1178.54) rotate(0) scale(1.022 1.057)" stroke="#000" stroke-width="0.7" vector-effect="non-scaling-stroke">名</text>
<text class="cjk" font-size="20" transform="translate(326.51 1178.51) rotate(0) scale(1.104 1.068)" stroke="#000" stroke-width="0.7" vector-effect="non-scaling-stroke">称</text>
<text class="cjk" font-size="20" transform="translate(383.08 1178.78) rotate(0) scale(1.111 1.037)" stroke="#000" stroke-width="0.7" vector-effect="non-scaling-stroke">数量</text>
<text class="cjk" font-size="20" transform="translate(520.38 1178.62) rotate(0) scale(1.121 1.016)" stroke="#000" stroke-width="0.7" vector-effect="non-scaling-stroke">备</text>
<text class="cjk" font-size="20" transform="translate(652.46 1178.62) rotate(0) scale(1.147 1.016)" stroke="#000" stroke-width="0.7" vector-effect="non-scaling-stroke">注</text>
</svg>
</body></html>
